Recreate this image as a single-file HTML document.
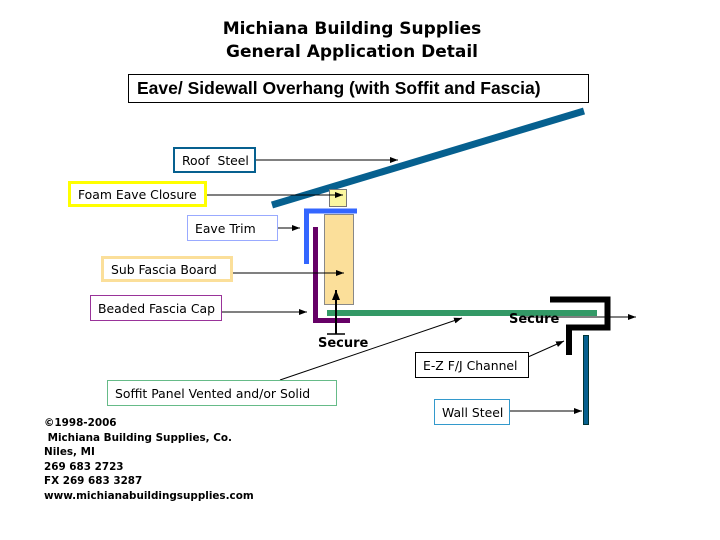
<!DOCTYPE html><html><head><style>
body{margin:0;width:720px;height:540px;background:#fff;position:relative;overflow:hidden;font-family:"DejaVu Sans","Liberation Sans",sans-serif}
.t{position:absolute;left:0;width:704px;text-align:center;font-weight:bold;font-size:17px;font-family:"DejaVu Sans",sans-serif;white-space:nowrap}
.b{position:absolute;box-sizing:border-box;font-size:12.4px;display:flex;align-items:center;padding-left:7px;background:#fff;white-space:nowrap}
.f{position:absolute;left:44px;top:416px;font-size:10.4px;font-weight:bold;line-height:14.5px;white-space:nowrap}
</style></head><body>
<div class="t" style="top:19px">Michiana Building Supplies</div>
<div class="t" style="top:42px">General Application Detail</div>
<div class="b" style="left:128px;top:74px;width:461px;height:29px;border:1px solid #000;font-weight:bold;font-size:17.5px;padding-left:8px;font-family:'Liberation Sans',sans-serif">Eave/ Sidewall Overhang (with Soffit and Fascia)</div>
<svg width="720" height="540" style="position:absolute;left:0;top:0">
<defs><marker id="a" markerUnits="userSpaceOnUse" markerWidth="8" markerHeight="6" refX="8" refY="3" orient="auto"><path d="M0,0L8,3L0,6z" fill="#000"/></marker>
<marker id="b" markerUnits="userSpaceOnUse" markerWidth="10" markerHeight="8" refX="10" refY="4" orient="auto"><path d="M0,0L10,4L0,8z" fill="#000"/></marker></defs>
<line x1="272" y1="205" x2="584" y2="111" stroke="#06608f" stroke-width="7"/>
<rect x="329.5" y="189.5" width="17" height="17" fill="#fbf7a0" stroke="#777"/>
<path d="M306.5,264V211H357" fill="none" stroke="#3366ff" stroke-width="5"/>
<rect x="324.5" y="214.5" width="29" height="90" fill="#fbdf9a" stroke="#888"/>
<path d="M315.5,227V320.5H350" fill="none" stroke="#660066" stroke-width="5"/>
<line x1="327" y1="313" x2="597" y2="313" stroke="#339966" stroke-width="6"/>
<path d="M550,299.5H607.5V327.5H569V355" fill="none" stroke="#000" stroke-width="6"/>
<rect x="583.5" y="335.5" width="5" height="89" fill="#06608f" stroke="#033"/>
<g stroke="#000" stroke-width="1" fill="none" marker-end="url(#a)">
<line x1="255" y1="160" x2="398" y2="160"/>
<line x1="206" y1="195" x2="343" y2="195"/>
<line x1="271" y1="228" x2="300" y2="228"/>
<line x1="216" y1="273" x2="344" y2="273"/>
<line x1="221" y1="312" x2="307" y2="312"/>
<line x1="280" y1="380" x2="462" y2="318"/>
<line x1="520" y1="317" x2="636" y2="317"/>
<line x1="510" y1="365" x2="564" y2="341"/>
<line x1="509" y1="411" x2="582" y2="411"/>
</g>
<line x1="336" y1="334" x2="336" y2="290" stroke="#000" stroke-width="2" marker-end="url(#b)"/>
<line x1="327" y1="334" x2="345" y2="334" stroke="#000" stroke-width="1.5"/>
</svg>
<div style="position:absolute;left:318px;top:336px;font-weight:bold;font-size:13px">Secure</div>
<div style="position:absolute;left:509px;top:312px;font-weight:bold;font-size:13px">Secure</div>
<div class="b" style="left:173px;top:147px;width:83px;height:26px;border:2px solid #06608f">Roof&nbsp; Steel</div>
<div class="b" style="left:68px;top:181px;width:139px;height:26px;border:3px solid #ffff00">Foam Eave Closure</div>
<div class="b" style="left:187px;top:215px;width:91px;height:26px;border:1px solid #99aaff">Eave Trim</div>
<div class="b" style="left:101px;top:256px;width:132px;height:26px;border:3px solid #fbdf9a">Sub Fascia Board</div>
<div class="b" style="left:90px;top:295px;width:132px;height:26px;border:1px solid #993399">Beaded Fascia Cap</div>
<div class="b" style="left:107px;top:380px;width:230px;height:26px;border:1px solid #66bb88">Soffit Panel Vented and/or Solid</div>
<div class="b" style="left:415px;top:352px;width:114px;height:26px;border:1px solid #000">E-Z F/J Channel</div>
<div class="b" style="left:434px;top:399px;width:76px;height:26px;border:1px solid #3399cc">Wall Steel</div>
<div class="f">©1998-2006<br>&nbsp;Michiana Building Supplies, Co.<br>Niles, MI<br>269 683 2723<br>FX 269 683 3287<br>www.michianabuildingsupplies.com</div>
</body></html>
